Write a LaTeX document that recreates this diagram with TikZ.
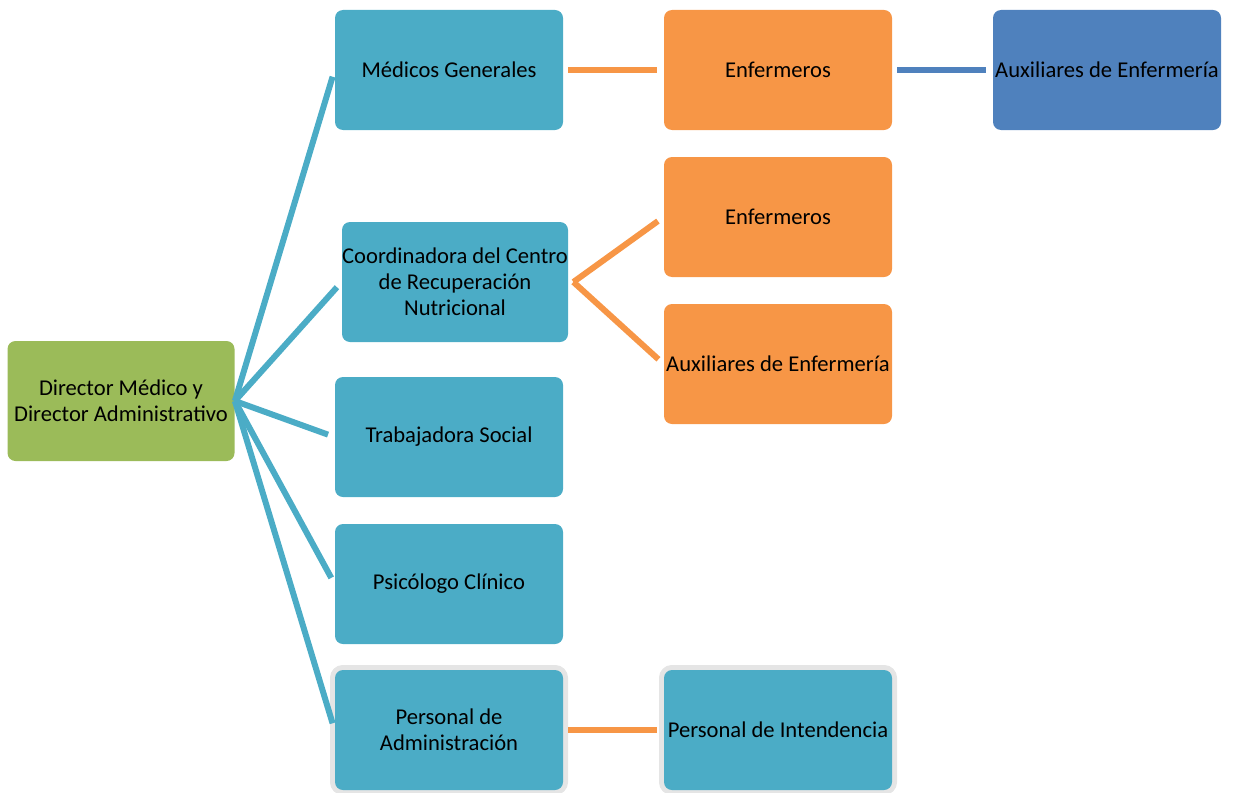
\documentclass[tikz,border=0pt]{standalone}
\usepackage{fontspec}
\setmainfont{Carlito}
\definecolor{mygreen}{HTML}{9BBB59}
\definecolor{myteal}{HTML}{4BACC6}
\definecolor{myorange}{HTML}{F79646}
\definecolor{myblue}{HTML}{4F81BD}

\begin{document}
\begin{tikzpicture}[x=0.5pt, y=-0.5pt,
    box/.style={rectangle, rounded corners=4pt, minimum width=114pt, minimum height=60pt,
      inner sep=0pt, align=center, font=\fontsize{11.3}{13}\selectfont},
    rim/.style={preaction={draw=black!10, line width=5pt}},
    link/.style={line width=3pt, shorten <=2.5pt, shorten >=3.5pt}]
    \useasboundingbox (0,0) rectangle (1234,792);
    \node (dir) [box, fill=mygreen, minimum width=113.5pt] at (121,401) {Director Médico y\\Director Administrativo};
    \node (med) [box, fill=myteal] at (449,70) {Médicos Generales};
    \node (enf1) [box, fill=myorange] at (778,70) {Enfermeros};
    \node (aux1) [box, fill=myblue] at (1107,70) {Auxiliares de Enfermería};
    \node (coord) [box, fill=myteal, minimum width=113pt] at (455,282) {Coordinadora del Centro\\de Recuperación\\Nutricional};
    \node (enf2) [box, fill=myorange] at (778,217) {Enfermeros};
    \node (aux2) [box, fill=myorange] at (778,364) {Auxiliares de Enfermería};
    \node (trab) [box, fill=myteal] at (449,437) {Trabajadora Social};
    \node (psic) [box, fill=myteal] at (449,584) {Psicólogo Clínico};
    \node (adm) [box, rim, fill=myteal] at (449,730) {Personal de\\Administración};
    \node (int) [box, rim, fill=myteal] at (778,730) {Personal de Intendencia};
    \coordinate (fork) at ([xshift=2.5pt]coord.east);
    \draw [link, myteal, shorten <=0pt] (dir.east) -- (med.west);
    \draw [link, myteal, shorten <=0pt] (dir.east) -- (coord.west);
    \draw [link, myteal, shorten <=0pt] (dir.east) -- (trab.west);
    \draw [link, myteal, shorten <=0pt] (dir.east) -- (psic.west);
    \draw [link, myteal, shorten <=0pt] (dir.east) -- (adm.west);
    \draw [link, myorange] (med) -- (enf1);
    \draw [link, myblue] (enf1) -- (aux1);
    \draw [link, myorange, shorten <=0pt] (fork) -- (enf2.west);
    \draw [link, myorange, shorten <=0pt] (fork) -- (aux2.west);
    \draw [link, myorange] (adm) -- (int);
\end{tikzpicture}
\end{document}
